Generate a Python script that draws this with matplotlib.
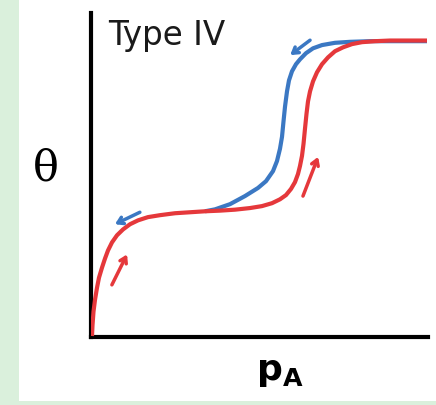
import matplotlib
matplotlib.use("Agg")
import matplotlib.pyplot as plt
from matplotlib.patches import Rectangle

# adsorption branch (red), axes run 0..100
red_x = [0.3, 0.45, 0.74, 1.19, 1.78, 2.37, 3.26, 4.15, 5.04, 6.23, 7.72, 9.50,
         11.57, 13.95, 16.91, 20.47, 24.93, 29.38, 33.83, 38.28, 42.73, 47.18,
         50.74, 53.71, 56.08, 57.86, 59.35, 60.53, 61.42, 62.02, 62.61, 63.06,
         63.50, 63.95, 64.39, 64.99, 65.88, 67.06, 68.55, 70.33, 72.40, 74.78,
         77.45, 80.42, 84.27, 88.72, 99.70]
red_y = [0.3, 3.7, 7.8, 11.5, 15.2, 18.3, 21.4, 24.2, 26.7, 29.2, 31.4, 33.2,
         34.8, 36.0, 37.0, 37.6, 38.2, 38.5, 38.8, 39.0, 39.3, 39.8,
         40.4, 41.3, 42.5, 43.8, 45.7, 47.8, 50.3, 52.8, 55.9, 59.6,
         64.3, 68.9, 72.7, 75.8, 78.9, 81.7, 84.2, 86.3, 88.2, 89.4,
         90.4, 91.0, 91.3, 91.5, 91.5]

# desorption branch (blue)
blue_x = [33.83, 36.80, 41.25, 45.70, 49.55, 51.93, 54.01, 55.19, 56.08, 56.68,
          57.12, 57.57, 58.16, 58.75, 59.64, 60.83, 62.02, 63.80, 65.88, 68.55,
          72.40, 76.85, 82.79, 99.70]
blue_y = [38.8, 39.4, 41.0, 43.5, 46.0, 48.1, 51.2, 54.3, 58.1, 61.8,
          66.5, 71.1, 75.8, 79.2, 82.0, 84.2, 85.7, 87.6, 89.1, 90.1,
          90.8, 91.1, 91.3, 91.3]

# arrows: (tail, tip)
red_arrows = [((6.2, 16.1), (10.7, 25.5)), ((62.9, 43.5), (67.4, 55.6))]
blue_arrows = [((14.5, 38.5), (7.1, 34.8)), ((65.0, 91.6), (59.1, 87.0))]

RED = "#e5383b"
BLUE = "#3b78c3"

plt.rcParams["mathtext.fontset"] = "dejavusans"

fig = plt.figure(figsize=(4.36, 4.05), dpi=100, facecolor="#daf0dc")
fig.patches.append(Rectangle((19 / 436, (405 - 401) / 405), 1, 1,
                             transform=fig.transFigure, facecolor="white",
                             edgecolor="none", zorder=-5))

ax = fig.add_axes([91 / 436, (405 - 337) / 405, 337 / 436, 324 / 405])
ax.set_zorder(2)
ax.set_facecolor("none")
ax.set_xlim(0, 100)
ax.set_ylim(0, 100)

ax.plot(blue_x, blue_y, color=BLUE, lw=3, solid_capstyle="butt",
        solid_joinstyle="round", zorder=2)
ax.plot(red_x, red_y, color=RED, lw=3, solid_capstyle="butt",
        solid_joinstyle="round", zorder=3)

for tail, tip in red_arrows:
    ax.annotate("", xy=tip, xytext=tail,
                arrowprops=dict(arrowstyle="->,head_length=0.4,head_width=0.25",
                                color=RED, lw=2.5, shrinkA=0, shrinkB=0))
for tail, tip in blue_arrows:
    ax.annotate("", xy=tip, xytext=tail,
                arrowprops=dict(arrowstyle="->,head_length=0.4,head_width=0.25",
                                color=BLUE, lw=2.5, shrinkA=0, shrinkB=0))

for s in ["top", "right"]:
    ax.spines[s].set_visible(False)
for s in ["left", "bottom"]:
    ax.spines[s].set_linewidth(3)
ax.set_xticks([])
ax.set_yticks([])

fig.text(108 / 436, (405 - 45) / 405, "Type IV", fontsize=23.5,
         family="DejaVu Sans", color="#1a1a1a", va="baseline")
fig.text(46 / 436, (405 - 168) / 405, "θ", fontsize=31,
         family="DejaVu Serif", ha="center", va="center")
fig.text(280 / 436, (405 - 372) / 405, r"$\mathbf{p}_{\mathbf{A}}$", fontsize=26,
         ha="center", va="center")

fig.savefig("out.png", dpi=100, facecolor=fig.get_facecolor())
